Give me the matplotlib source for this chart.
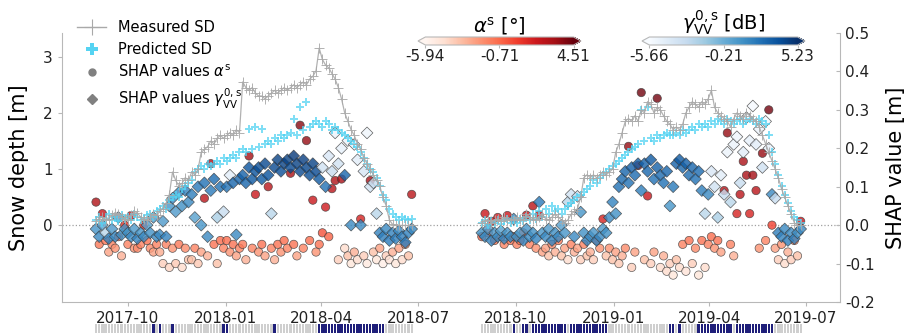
import numpy as np
import pandas as pd
import matplotlib
matplotlib.use("Agg")
import matplotlib.pyplot as plt
import matplotlib.dates as mdates
from matplotlib.lines import Line2D
from matplotlib import colors as mcolors
from matplotlib import cm

plt.rcParams['axes.unicode_minus'] = False

# ---- season 2017/18 (one acquisition every 3 days from 2017-09-01) ----
start_1718 = "2017-09-01"
sd_meas_1718 = [
    0.08, 0.12, 0.15, 0.10, 0.12, 0.18, 0.23, 0.20, 0.15, 0.12,
    0.10, 0.18, 0.25, 0.22, 0.15, 0.12, 0.10, 0.15, 0.20, 0.18,
    0.25, 0.30, 0.40, 0.55, 0.95, 0.80, 0.70, 0.75, 0.85, 0.80,
    0.95, 0.90, 1.00, 1.30, 1.35, 1.40, 1.50, 1.45, 1.55, 1.60,
    1.55, 1.60, 1.65, 1.60, 1.70, 1.65, 2.55, 2.45, 2.40, 2.45,
    2.35, 2.30, 2.30, 2.25, 2.30, 2.35, 2.40, 2.35, 2.40, 2.45,
    2.40, 2.45, 2.50, 2.45, 2.50, 2.55, 2.50, 2.60, 2.65, 2.75,
    3.15, 2.95, 2.85, 2.80, 2.70, 2.60, 2.45, 2.25, 2.00, 1.85,
    1.70, 1.60, 1.45, 1.35, 1.20, 1.10, 1.00, 0.90, 0.80, 0.70,
    0.50, 0.35, 0.10, 0.02, 0.00, 0.00, 0.00, 0.00, 0.00, 0.00]
sd_pred_1718 = [
    0.10, 0.15, 0.05, 0.12, 0.20, 0.10, 0.15, 0.08, 0.18, 0.12,
    0.15, 0.10, 0.20, 0.15, 0.10, 0.12, 0.18, 0.20, 0.15, 0.25,
    0.30, 0.35, 0.30, 0.45, 0.50, 0.55, 0.50, 0.65, 0.70, 0.75,
    0.80, 0.95, 1.00, 1.05, 1.00, 1.10, 1.05, 1.10, 1.15, 1.10,
    1.20, 1.15, 1.20, 1.25, 1.20, 1.30, 1.35, 1.30, 1.72, 1.35,
    1.75, 1.40, 1.72, 1.45, 1.50, 1.45, 1.55, 1.50, 1.60, 1.55,
    1.60, 1.65, 1.90, 1.60, 2.10, 1.70, 2.20, 1.75, 1.80, 1.85,
    1.80, 1.75, 1.85, 1.80, 1.70, 1.75, 1.70, 1.65, 1.60, 1.55,
    1.50, 1.45, 1.40, 1.30, 1.20, 1.10, 1.00, 0.95, 0.85, 0.70,
    0.55, 0.45, 0.30, 0.20, 0.15, 0.10, 0.15, 0.12, 0.10, 0.12]
shap_alpha_1718 = [
    0.06, -0.05, 0.03, -0.04, -0.07, -0.05, -0.06, -0.03, -0.08, 0.00,
    -0.05, 0.025, -0.06, -0.06, -0.05, 0.00, -0.04, -0.06, -0.07, -0.05,
    -0.07, -0.10, -0.05, -0.11, -0.06, -0.10, -0.05, -0.11, -0.06, -0.09,
    -0.09, -0.06, -0.10, -0.07, 0.07, -0.08, 0.16, -0.05, -0.10, -0.04,
    -0.06, -0.04, -0.07, -0.05, -0.08, -0.06, -0.05, -0.09, 0.18, -0.06,
    0.08, -0.07, -0.05, -0.08, 0.10, -0.06, -0.09, -0.05, -0.07, -0.04,
    -0.06, 0.135, -0.05, -0.08, 0.26, -0.06, 0.22, -0.04, 0.065, -0.07,
    -0.05, -0.02, 0.047, -0.03, 0.095, 0.116, -0.09, 0.12, -0.06, -0.08,
    -0.10, -0.07, -0.09, 0.016, -0.08, -0.10, 0.116, -0.07, -0.09, -0.06,
    -0.10, -0.08, -0.09, -0.07, -0.10, -0.06, -0.09, -0.05, -0.08, 0.08]
alpha_1718 = [
    2.8, -1.2, 2.2, -1.0, -2.5, -1.5, -2.0, -0.5, -3.0, 1.0,
    -1.5, 2.0, -2.0, -1.8, -1.5, 1.0, -1.0, -1.8, -2.5, -1.5,
    -2.8, -4.0, -1.5, -4.2, -2.0, -3.8, -1.2, -4.5, -1.8, -3.5,
    -3.5, -1.5, -3.8, -2.5, 2.5, -3.0, 3.0, -1.0, -3.5, -0.8,
    -1.5, -0.8, -2.0, -1.0, -2.5, -1.5, -1.2, -3.0, 3.2, -1.5,
    2.0, -2.0, -1.0, -2.5, 2.5, -1.5, -3.0, -1.0, -2.0, -0.8,
    -1.5, 3.0, -1.0, -2.5, 3.8, -1.5, 3.5, -0.8, 2.0, -2.0,
    -1.0, 0.0, 1.8, -0.5, 2.5, 2.8, -4.0, 3.0, -4.5, -3.5,
    -5.0, -3.0, -4.5, 1.5, -4.0, -5.2, 3.0, -3.5, -5.0, -2.5,
    -5.5, -4.0, -4.8, -3.0, -5.0, -2.5, -4.5, -2.0, -3.5, 2.5]
shap_gamma_1718 = [
    -0.01, -0.03, 0.00, -0.02, -0.035, -0.01, -0.03, 0.02, -0.025, -0.01,
    -0.02, -0.03, -0.01, -0.035, -0.02, -0.03, 0.00, -0.02, 0.02, -0.03,
    -0.025, 0.01, -0.03, 0.05, 0.07, 0.035, 0.085, 0.05, 0.09, 0.06,
    0.08, 0.02, 0.10, 0.00, 0.11, -0.03, 0.09, 0.12, 0.02, 0.10,
    0.035, 0.10, 0.13, 0.11, -0.025, 0.12, 0.13, 0.11, 0.15, 0.12,
    0.14, 0.15, 0.12, 0.16, 0.13, 0.03, 0.15, 0.17, 0.14, 0.16,
    0.17, 0.15, 0.18, 0.16, 0.14, 0.17, 0.15, 0.13, 0.16, 0.14,
    0.12, 0.15, 0.10, 0.18, 0.14, 0.24, 0.16, 0.20, 0.13, 0.22,
    0.00, 0.21, 0.17, 0.00, 0.14, 0.24, 0.10, 0.11, 0.03, -0.02,
    -0.03, -0.01, -0.04, -0.02, -0.035, -0.015, -0.03, -0.045, -0.02, -0.01]
gamma_1718 = [
    1.0, 1.5, 0.5, -2.5, 1.8, 0.8, 1.5, 0.8, 1.2, 1.0,
    1.2, 1.5, 0.8, 1.8, 1.0, 1.5, 0.5, 1.2, 0.8, 1.5,
    1.5, 0.8, 1.8, 1.0, 1.5, 0.8, 1.5, 1.2, 1.8, 1.5,
    2.0, 0.5, 2.2, 1.0, 2.5, 1.5, 2.2, 2.8, -2.0, 2.5,
    -3.0, 2.5, -4.5, 3.0, 1.5, 3.0, 3.2, 3.0, 3.8, 3.5,
    3.8, 4.0, 3.5, 4.2, 3.8, -2.5, 4.2, 4.5, 4.0, 4.5,
    4.5, 4.2, 4.8, 4.5, 4.2, 4.6, 4.3, 4.0, 4.5, 4.2,
    3.5, -3.5, 2.5, -4.0, -3.0, -5.0, -3.5, -4.8, 3.0, -5.0,
    1.5, -4.8, -4.5, 1.5, -3.8, -5.2, -3.5, -3.0, -2.5, 1.8,
    2.0, 1.5, 2.2, 1.8, 2.0, 1.5, 2.0, 2.2, 1.8, 1.5]
wet_1718 = [18, 20, 24, 40, 41, 56, 70, 71, 72, 73, 74, 75, 76, 77, 78, 79,
            80, 81, 82, 83, 84, 85, 86, 87, 88, 89, 90]

# ---- season 2018/19 (one acquisition every 3 days from 2018-08-30) ----
start_1819 = "2018-08-30"
sd_meas_1819 = [
    0.05, 0.08, 0.10, 0.05, 0.10, 0.12, 0.08, 0.15, 0.10, 0.12,
    0.10, 0.15, 0.12, 0.10, 0.20, 0.15, 0.12, 0.10, 0.15, 0.20,
    0.12, 0.10, 0.15, 0.20, 0.15, 0.10, 0.05, 0.10, 0.20, 0.25,
    0.30, 0.50, 0.85, 0.90, 0.85, 0.90, 0.85, 0.90, 0.95, 0.90,
    0.95, 1.00, 1.30, 1.45, 1.65, 1.85, 1.90, 1.85, 1.95, 1.85,
    2.05, 2.00, 2.20, 2.15, 2.00, 2.10, 2.05, 1.95, 1.85, 1.80,
    1.70, 1.75, 1.70, 1.80, 2.00, 2.10, 2.20, 2.15, 2.10, 2.20,
    2.15, 2.25, 2.40, 2.10, 2.00, 1.95, 1.90, 1.85, 1.75, 1.90,
    2.00, 1.95, 1.90, 2.00, 1.95, 1.90, 1.85, 1.75, 1.60, 1.45,
    1.30, 1.15, 1.00, 0.85, 0.65, 0.50, 0.35, 0.20, 0.05, 0.00, 0.00]
sd_pred_1819 = [
    0.05, 0.10, 0.00, 0.08, 0.05, 0.10, 0.02, 0.08, 0.12, 0.05,
    0.10, 0.05, 0.12, 0.08, 0.15, 0.10, 0.20, 0.12, 0.25, 0.15,
    0.30, 0.20, 0.35, 0.25, 0.30, 0.20, 0.30, 0.35, 0.40, 0.45,
    0.50, 0.55, 0.60, 0.65, 0.70, 0.80, 0.75, 0.85, 0.90, 0.95,
    1.00, 1.05, 1.10, 1.15, 1.20, 1.25, 1.30, 1.35, 1.40, 1.45,
    2.05, 1.50, 2.10, 1.55, 1.50, 1.60, 1.55, 1.60, 1.65, 1.60,
    1.60, 1.65, 1.60, 1.70, 1.65, 1.70, 1.75, 1.70, 1.80, 1.75,
    1.80, 1.75, 1.85, 1.80, 1.90, 1.85, 1.80, 1.90, 1.85, 1.80,
    1.85, 1.90, 1.80, 1.85, 1.90, 1.85, 1.80, 1.90, 1.85, 1.80,
    1.60, 1.30, 1.10, 0.90, 0.70, 0.55, 0.40, 0.25, 0.15, 0.10, 0.05]
shap_alpha_1819 = [
    -0.03, 0.03, -0.02, 0.01, -0.04, 0.02, -0.03, -0.05, 0.025, -0.04,
    -0.03, -0.05, -0.04, -0.02, 0.026, -0.05, 0.05, -0.06, 0.026, -0.07,
    -0.06, -0.08, -0.05, -0.07, -0.04, -0.08, -0.06, -0.09, -0.05, -0.07,
    -0.06, -0.09, -0.05, -0.08, -0.07, -0.09, -0.04, -0.06, 0.016, -0.08,
    -0.06, -0.09, -0.07, -0.10, -0.08, -0.06, 0.205, -0.11, -0.07, 0.155,
    0.345, -0.09, 0.076, -0.10, -0.07, 0.33, -0.11, -0.08, -0.12, -0.10,
    -0.13, -0.09, -0.11, -0.05, -0.12, -0.04, -0.10, -0.06, -0.13, -0.04,
    -0.11, -0.05, -0.03, -0.06, -0.04, -0.07, 0.09, 0.24, -0.05, -0.08,
    0.03, 0.08, 0.166, 0.13, 0.03, 0.13, 0.09, -0.06, 0.187, -0.04,
    0.30, 0.00, -0.06, -0.09, -0.05, -0.10, -0.07, -0.09, -0.04, -0.08, 0.01]
alpha_1819 = [
    -0.5, 2.0, -0.5, 1.5, -1.0, 1.8, -0.8, -1.5, 2.0, -1.0,
    -0.8, -1.5, -1.0, -0.5, 2.0, -1.5, 2.5, -2.0, 2.0, -2.5,
    -2.5, -3.5, -1.8, -3.0, -1.2, -3.5, -2.5, -4.5, -1.5, -3.0,
    -2.5, -4.0, -1.5, -3.5, -3.0, -4.0, -1.0, -2.0, 1.5, -3.5,
    -2.0, -3.5, -2.5, -3.8, -3.0, -1.8, 3.5, -4.0, -2.5, 3.0,
    4.3, -3.5, 2.0, -4.0, -2.5, 4.2, -4.5, -3.0, -4.5, -4.0,
    -5.0, -3.5, -4.5, -1.5, -4.8, -1.0, -4.0, -1.8, -5.0, -1.0,
    -4.5, -1.5, -0.8, -2.0, -1.0, -2.5, 2.5, 3.5, -1.5, -3.0,
    1.5, 2.5, 3.0, 3.0, 1.5, 3.2, 2.5, -2.0, 3.5, -1.5,
    4.2, 0.5, -2.5, -4.0, -2.0, -4.5, -3.0, -4.0, -1.5, -3.5, 2.0]
shap_gamma_1819 = [
    -0.02, -0.03, -0.01, -0.04, -0.02, -0.03, -0.015, -0.035, -0.02, -0.03,
    0.016, -0.03, -0.02, -0.04, -0.01, -0.03, -0.02, -0.035, 0.06, -0.02,
    -0.03, -0.01, -0.04, -0.02, -0.03, 0.00, -0.02, 0.06, 0.08, -0.03,
    0.075, 0.034, -0.02, -0.04, -0.03, -0.02, -0.04, -0.03, -0.01, -0.02,
    0.02, 0.06, 0.03, 0.10, 0.12, 0.14, 0.11, 0.15, 0.13, 0.16,
    0.09, 0.16, 0.14, 0.17, 0.12, 0.15, 0.13, 0.11, 0.14, 0.05,
    0.10, 0.16, 0.17, 0.15, 0.16, 0.13, 0.15, 0.12, 0.14, 0.09,
    0.03, 0.08, 0.14, 0.10, 0.02, 0.13, 0.08, 0.19, 0.06, 0.21,
    0.23, 0.11, 0.19, 0.28, 0.22, 0.31, 0.21, 0.25, 0.15, 0.27,
    0.20, 0.08, 0.07, -0.02, -0.03, -0.01, -0.04, -0.02, -0.035, -0.02, -0.01]
gamma_1819 = [
    1.2, 1.5, 0.8, 1.8, 1.0, 1.5, 0.5, 1.8, 1.0, 1.5,
    1.5, 1.2, 0.8, 1.8, 1.0, 1.5, 1.2, 1.8, 2.2, 1.0,
    1.5, 0.8, 1.8, 1.2, 1.5, 0.5, 1.0, -2.5, -3.5, 1.5,
    -3.0, 1.0, 1.2, 1.8, 1.5, 1.0, 1.8, 1.5, 0.8, 1.2,
    1.5, 1.8, 1.2, 2.5, 2.8, 3.0, 2.5, 3.2, 2.8, 3.2,
    2.0, 3.2, 3.0, 3.5, 2.5, 3.2, 2.8, 2.5, 3.0, 1.0,
    2.2, 3.2, 3.5, 3.0, 3.3, 2.8, 3.0, 2.5, 2.8, 2.0,
    -2.5, 1.5, -4.0, -3.5, -2.0, -4.5, -3.0, -5.0, -2.5, -5.0,
    -5.2, -3.0, -4.5, -5.5, -4.8, -5.5, -4.5, -5.0, -3.5, -5.2,
    -4.8, 1.5, -3.0, 2.0, 1.8, 1.5, 2.0, 1.5, 1.8, 1.2, 1.5]
wet_1819 = [10, 13, 14, 16, 17, 18, 19, 20, 21, 22, 23, 24, 25, 26, 28, 29,
            30, 31, 32, 33, 34, 35, 36, 37, 38, 39, 59, 60, 62, 68, 69, 70,
            71, 72, 73, 74, 75, 76, 77, 78, 80, 81, 82, 83, 84, 85, 86, 87,
            88, 89, 90, 91]

# colour bar ranges and their tick labels
alpha_lim = (-5.94, 4.51)
alpha_ticklabels = ['-5.94', '-0.71', '4.51']
gamma_lim = (-5.66, 5.23)
gamma_ticklabels = ['-5.66', '-0.21', '5.23']

seasons = [
    (start_1718, sd_meas_1718, sd_pred_1718, shap_alpha_1718, alpha_1718,
     shap_gamma_1718, gamma_1718, wet_1718),
    (start_1819, sd_meas_1819, sd_pred_1819, shap_alpha_1819, alpha_1819,
     shap_gamma_1819, gamma_1819, wet_1819),
]

meas_col = '#a9a9a9'
pred_col = '#55d3f2'
spine_col = '#b8b8b8'

fig = plt.figure(figsize=(9.12, 3.34), dpi=100)
ax = fig.add_axes([62 / 912, 32 / 334, 778 / 912, 269 / 334])
ax2 = ax.twinx()
strip = fig.add_axes([62 / 912, 1 / 334, 778 / 912, 9 / 334])

# snow depth axis drawn above the SHAP axis
ax.set_zorder(ax2.get_zorder() + 1)
ax.patch.set_visible(False)

norm_a = mcolors.Normalize(*alpha_lim)
norm_g = mcolors.Normalize(*gamma_lim)

for start, meas, pred, sa, av, sg, gv, wet in seasons:
    d = pd.date_range(start, periods=len(meas), freq="3D")
    ax2.scatter(d, sa, c=av, cmap='Reds', norm=norm_a, marker='o', s=36,
                edgecolors='#3a3a3a', linewidths=0.5, alpha=0.8)
    ax2.scatter(d, sg, c=gv, cmap='Blues', norm=norm_g, marker='D', s=36,
                edgecolors='#3a3a3a', linewidths=0.5, alpha=0.8)
    ax.plot(d, meas, color=meas_col, lw=0.9, marker='+', ms=7, mew=0.7, alpha=0.9)
    ax.scatter(d, pred, marker='P', s=28, color=pred_col, alpha=0.75, linewidths=0)
    flag = np.zeros(len(d), dtype=bool)
    flag[wet] = True
    strip.bar(d, 1, width=2.2, color=np.where(flag, '#1f1f7a', '#cfcfcf'),
              align='center')

ax2.axhline(0, color='#a0a0a0', ls=':', lw=0.9, zorder=0)

xlim = (pd.Timestamp("2017-07-31"), pd.Timestamp("2019-08-02"))
ax.set_xlim(xlim)
strip.set_xlim(xlim)
strip.set_ylim(0, 1)
strip.axis('off')

ax.set_ylim(-1.36, 3.42)
ax2.set_ylim(-0.2, 0.5)
ax.set_yticks([0, 1, 2, 3])
ax2.set_yticks(np.round(np.arange(-0.2, 0.51, 0.1), 1))
ax2.yaxis.set_major_formatter(plt.FormatStrFormatter('%.1f'))
ax.xaxis.set_major_locator(mdates.MonthLocator(bymonth=[1, 4, 7, 10]))
ax.xaxis.set_major_formatter(mdates.DateFormatter('%Y-%m'))

for a in (ax, ax2):
    for s in a.spines.values():
        s.set_color(spine_col)
    a.spines['top'].set_visible(False)
ax.spines['right'].set_visible(False)
ax2.spines['left'].set_visible(False)
ax2.spines['bottom'].set_visible(False)

ax.tick_params(axis='both', labelsize=11, colors='#222222', length=3, color=spine_col)
ax2.tick_params(axis='y', labelsize=11, colors='#222222', length=3, color=spine_col,
                direction='in')
ax.set_ylabel('Snow depth [m]', fontsize=15, labelpad=10)
ax2.set_ylabel('SHAP value [m]', fontsize=15, labelpad=8)

handles = [
    Line2D([], [], color=meas_col, lw=1, marker='+', ms=12, mew=0.8),
    Line2D([], [], ls='none', marker='P', ms=9, color=pred_col, mew=0),
    Line2D([], [], ls='none', marker='o', ms=5, color='#808080'),
    Line2D([], [], ls='none', marker='D', ms=5, color='#808080'),
]
labels = ['Measured SD', 'Predicted SD', r'SHAP values $\alpha^{\mathrm{s}}$',
          r'SHAP values $\gamma^{0,\mathrm{s}}_{\mathrm{VV}}$']
ax.legend(handles, labels, loc='upper left', bbox_to_anchor=(0.008, 1.08),
          frameon=False, fontsize=10.5, labelspacing=0.45, borderaxespad=0.2)

# colour bars for the feature values
for cmap, norm, lim, ticklabels, left, title in [
        ('Reds', norm_a, alpha_lim, alpha_ticklabels, 418,
         r'$\alpha^{\mathrm{s}}$ [°]'),
        ('Blues', norm_g, gamma_lim, gamma_ticklabels, 642,
         r'$\gamma^{0,\mathrm{s}}_{\mathrm{VV}}$ [dB]')]:
    cax = fig.add_axes([left / 912, (334 - 45) / 334, 163 / 912, 8 / 334])
    sm = cm.ScalarMappable(norm=norm, cmap=cmap)
    ticks = [lim[0], (lim[0] + lim[1]) / 2, lim[1]]
    cb = fig.colorbar(sm, cax=cax, orientation='horizontal', extend='both', ticks=ticks)
    cb.set_ticklabels(ticklabels)
    cb.outline.set_edgecolor(spine_col)
    cb.outline.set_linewidth(0.8)
    cax.tick_params(labelsize=11, colors='#222222', length=2, color=spine_col, pad=1)
    cax.set_title(title, fontsize=14, pad=0)

fig.savefig('out.png', dpi=100, facecolor='white')
